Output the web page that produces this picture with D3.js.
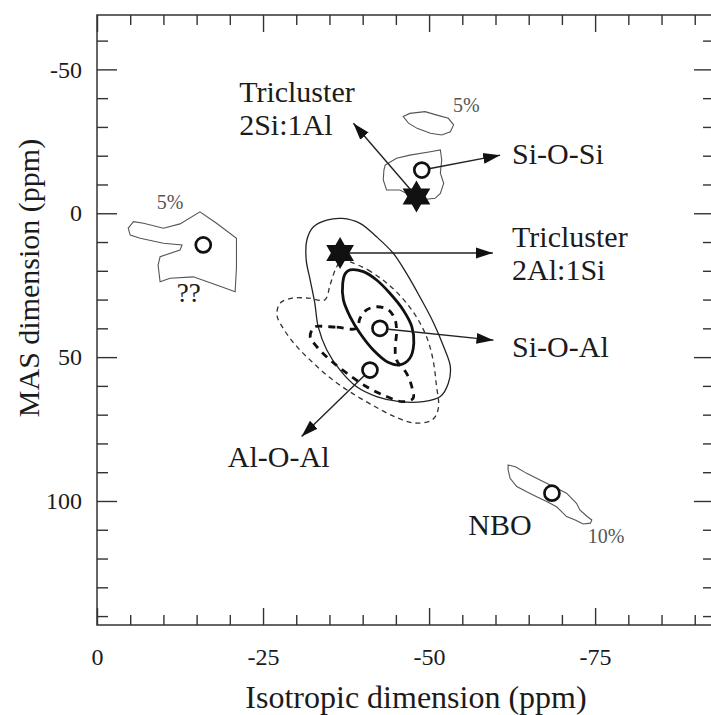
<!DOCTYPE html>
<html>
<head>
<meta charset="utf-8">
<script src="https://cdn.jsdelivr.net/npm/d3@7"></script>
<style>
  body { margin: 0; background: #fff; }
  svg { display: block; font-family: 'Liberation Serif', serif; }
</style>
</head>
<body>
<svg width="711" height="715"></svg>
<script>
// Axis ticks (ppm)
const xMajor = [0, -25, -50, -75];
const xMinor = [-5, -10, -15, -20, -30, -35, -40, -45, -55, -60, -65, -70, -80, -85, -90];
const yMajor = [-50, 0, 50, 100];
const yMinor = [-60, -40, -30, -20, -10, 10, 20, 30, 40, 60, 70, 80, 90, 110, 120, 130, 140];

// Contours, as [isotropic, MAS] pairs
const contourLeft5 = [[-4.7, 5.2], [-5.5, 2.9], [-7.0, 3.5], [-10.0, 5.2], [-12.5, 3.7], [-15.5, -0.5],
  [-18.0, 3.5], [-21.0, 8.7], [-21.0, 18.6], [-20.8, 27.3], [-18.0, 24.9], [-14.5, 22.1], [-11.0, 22.6],
  [-9.5, 23.8], [-9.2, 18.0], [-9.5, 15.1], [-12.5, 12.8], [-12.8, 11.0], [-10.0, 10.4], [-6.5, 8.7], [-5.0, 7.6]];
const contourTop5 = [[-46.1, -33.6], [-47.1, -34.7], [-49.4, -35.3], [-51.2, -34.1], [-52.9, -33.0], [-53.7, -30.7],
  [-53.2, -28.3], [-51.9, -27.2], [-50.2, -27.8], [-48.2, -29.5], [-46.9, -31.3]];
const contourSiOSi = [[-43.4, -16.8], [-45.1, -19.1], [-47.1, -20.2], [-50.2, -21.4], [-51.7, -22.0], [-51.9, -18.5],
  [-51.7, -13.9], [-52.2, -10.4], [-51.7, -6.9], [-50.9, -5.2], [-48.6, -4.6], [-45.6, -8.1], [-43.6, -8.1],
  [-43.1, -11.6], [-43.2, -15.0]];
const contourNBO = [[-61.9, 87.5], [-63.0, 88.1], [-64.7, 90.4], [-66.7, 92.7], [-68.7, 95.0], [-70.7, 97.3],
  [-72.2, 100.8], [-72.7, 103.1], [-73.8, 105.4], [-74.5, 106.6], [-74.3, 107.7], [-73.2, 108.0], [-72.0, 106.6],
  [-70.7, 105.4], [-69.2, 102.0], [-67.7, 100.2], [-66.2, 98.5], [-64.7, 96.8], [-63.2, 95.0], [-62.2, 92.1], [-61.9, 89.2]];
const contourOuter = [[-36.9, 1.8], [-39.6, 3.5], [-42.1, 8.2], [-44.6, 13.9], [-46.6, 20.9], [-48.6, 29.0],
  [-50.7, 38.2], [-52.2, 46.4], [-53.2, 53.3], [-52.9, 59.1], [-51.7, 63.7], [-49.1, 65.5], [-45.6, 65.5],
  [-42.1, 63.7], [-39.1, 60.3], [-36.6, 54.5], [-34.6, 47.5], [-33.3, 39.4], [-32.8, 31.3], [-32.1, 23.2],
  [-31.5, 16.2], [-31.6, 9.3], [-32.6, 4.7], [-34.6, 2.4]];
const contourInner = [[-38.1, 19.7], [-40.1, 20.3], [-42.1, 23.2], [-44.1, 27.8], [-46.1, 33.6], [-47.4, 39.4],
  [-47.7, 45.2], [-47.1, 50.4], [-45.6, 52.7], [-43.9, 51.9], [-41.6, 47.5], [-39.6, 41.7], [-38.1, 35.9],
  [-37.1, 30.1], [-37.0, 24.3], [-37.4, 20.9]];
const contourSimThin = [[-38.1, 16.9], [-40.8, 19.7], [-43.8, 24.6], [-46.2, 30.1], [-48.2, 36.4], [-49.7, 43.4],
  [-50.6, 51.0], [-51.1, 59.7], [-51.4, 67.7], [-50.5, 71.8], [-47.9, 72.9], [-44.9, 70.8], [-41.4, 66.6],
  [-38.1, 62.1], [-35.1, 57.2], [-32.4, 51.7], [-30.0, 46.1], [-28.2, 40.6], [-27.1, 35.4], [-27.6, 31.2],
  [-29.4, 29.5], [-31.8, 29.5], [-34.3, 30.1], [-35.1, 24.9], [-36.0, 19.0], [-36.9, 16.2]];
const contourSimThick = [[-32.8, 39.4], [-36.1, 39.6], [-39.1, 40.0], [-39.6, 36.5], [-40.6, 33.6], [-42.1, 32.5],
  [-43.9, 33.6], [-44.9, 37.1], [-45.1, 41.7], [-44.9, 46.4], [-45.1, 51.0], [-46.6, 55.6], [-47.4, 60.3],
  [-47.6, 64.3], [-46.1, 65.5], [-43.6, 63.7], [-40.6, 60.3], [-37.6, 55.6], [-35.1, 51.0], [-33.1, 46.4],
  [-32.1, 42.9], [-32.5, 40.0]];

// Peak positions
const circlePts = [[-16.0, 11.0], [-48.9, -15.0], [-42.6, 40.0], [-41.1, 54.5], [-68.5, 97.3]];
const starPts = [[-48.1, -5.8], [-36.6, 13.8]];

// Arrows: start point, tip, and whether the start sits on a circle
const arrowFrom = [[-48.1, -5.8], [-48.9, -15.0], [-36.6, 13.8], [-42.6, 40.0], [-41.1, 54.5]];
const arrowTo = [[-38.6, -31.3], [-60.7, -20.2], [-59.6, 13.8], [-59.7, 44.1], [-30.8, 77.6]];
const arrowOnCircle = [false, true, false, true, true];

// Labels: text lines and anchor (start, first baseline)
const labelText = [['Tricluster', '2Si:1Al'], ['Si-O-Si'], ['Tricluster', '2Al:1Si'], ['Si-O-Al'], ['Al-O-Al'], ['NBO']];
const labelPos = [[-21.4, -38.7], [-62.5, -17.1], [-62.5, 11.6], [-62.5, 50.0], [-19.7, 88.1], [-55.9, 111.8]];
const noteText = ['5%', '5%', '10%', '??'];
const notePos = [[-9.0, -1.5], [-53.6, -35.3], [-73.9, 114.7], [-12.0, 30.7]];

const svg = d3.select('svg');
const ink = '#1b1b1b';

const x = d3.scaleLinear().domain([0, -92.9]).range([97, 714]);
const y = d3.scaleLinear().domain([-68.9, 143.1]).range([15, 625]);

// frame
svg.append('rect')
  .attr('x', x(0)).attr('y', y(-68.9))
  .attr('width', x(-92.9) - x(0)).attr('height', y(143.1) - y(-68.9))
  .attr('fill', 'none').attr('stroke', '#333').attr('stroke-width', 1.5);

function styleAxis(g) {
  g.select('.domain').remove();
  g.selectAll('line').attr('stroke', '#333').attr('stroke-width', 1.4);
  g.selectAll('text').attr('fill', ink).attr('font-size', 24)
    .attr('font-family', "'Liberation Serif', serif");
}

const fmt = d => String(d);

svg.append('g').attr('transform', `translate(0,${y(143.1)})`)
  .call(d3.axisBottom(x).tickValues(xMajor).tickSize(-17).tickPadding(23).tickFormat(fmt)).call(styleAxis);
svg.append('g').attr('transform', `translate(0,${y(143.1)})`)
  .call(d3.axisBottom(x).tickValues(xMinor).tickSize(-10).tickFormat('')).call(styleAxis);
svg.append('g').attr('transform', `translate(0,${y(-68.9)})`)
  .call(d3.axisTop(x).tickValues(xMajor).tickSize(-17).tickFormat('')).call(styleAxis);
svg.append('g').attr('transform', `translate(0,${y(-68.9)})`)
  .call(d3.axisTop(x).tickValues(xMinor).tickSize(-10).tickFormat('')).call(styleAxis);
svg.append('g').attr('transform', `translate(${x(0)},0)`)
  .call(d3.axisLeft(y).tickValues(yMajor).tickSize(-20).tickPadding(15).tickFormat(fmt)).call(styleAxis);
svg.append('g').attr('transform', `translate(${x(0)},0)`)
  .call(d3.axisLeft(y).tickValues(yMinor).tickSize(-11).tickFormat('')).call(styleAxis);
svg.append('g').attr('transform', `translate(${x(-92.9)},0)`)
  .call(d3.axisRight(y).tickValues(yMajor).tickSize(-20).tickFormat('')).call(styleAxis);
svg.append('g').attr('transform', `translate(${x(-92.9)},0)`)
  .call(d3.axisRight(y).tickValues(yMinor).tickSize(-11).tickFormat('')).call(styleAxis);

// axis titles
svg.append('text')
  .attr('x', 416).attr('y', 708)
  .attr('text-anchor', 'middle').attr('font-size', 32).attr('fill', ink)
  .text('Isotropic dimension (ppm)');
svg.append('text')
  .attr('transform', 'translate(39,278) rotate(-90)')
  .attr('text-anchor', 'middle').attr('font-size', 30).attr('fill', ink)
  .text('MAS dimension (ppm)');

// contours
const jagged = d3.line().x(d => x(d[0])).y(d => y(d[1])).curve(d3.curveLinearClosed);
const smooth = d3.line().x(d => x(d[0])).y(d => y(d[1])).curve(d3.curveCatmullRomClosed.alpha(0.5));

const plot = svg.append('g');
[contourLeft5, contourTop5, contourSiOSi, contourNBO].forEach(c => {
  plot.append('path').attr('d', jagged(c))
    .attr('fill', 'none').attr('stroke', '#555').attr('stroke-width', 1.1);
});
plot.append('path').attr('d', smooth(contourOuter))
  .attr('fill', 'none').attr('stroke', '#222').attr('stroke-width', 1.3);
plot.append('path').attr('d', smooth(contourSimThin))
  .attr('fill', 'none').attr('stroke', '#333').attr('stroke-width', 1.3)
  .attr('stroke-dasharray', '5,4');
plot.append('path').attr('d', smooth(contourSimThick))
  .attr('fill', 'none').attr('stroke', '#111').attr('stroke-width', 2.8)
  .attr('stroke-dasharray', '7,6');
plot.append('path').attr('d', smooth(contourInner))
  .attr('fill', 'none').attr('stroke', '#111').attr('stroke-width', 2.8);

// arrow head
svg.append('defs').append('marker')
  .attr('id', 'head')
  .attr('viewBox', '0 -6 17 12')
  .attr('refX', 17).attr('refY', 0)
  .attr('markerWidth', 17).attr('markerHeight', 12)
  .attr('markerUnits', 'userSpaceOnUse')
  .attr('orient', 'auto')
  .append('path').attr('d', 'M0,-5.5L17,0L0,5.5Z').attr('fill', '#111');

const circleR = 7.5;
arrowFrom.forEach((f, i) => {
  const x0 = x(f[0]), y0 = y(f[1]);
  const x1 = x(arrowTo[i][0]), y1 = y(arrowTo[i][1]);
  const len = Math.hypot(x1 - x0, y1 - y0);
  const gap = arrowOnCircle[i] ? circleR + 1 : 0;
  plot.append('line')
    .attr('x1', x0 + (x1 - x0) * gap / len).attr('y1', y0 + (y1 - y0) * gap / len)
    .attr('x2', x1).attr('y2', y1)
    .attr('stroke', '#222').attr('stroke-width', 1.4)
    .attr('marker-end', 'url(#head)');
});

// open circles
plot.selectAll('circle.peak').data(circlePts).enter().append('circle')
  .attr('class', 'peak')
  .attr('cx', d => x(d[0])).attr('cy', d => y(d[1])).attr('r', circleR)
  .attr('fill', '#fff').attr('stroke', '#111').attr('stroke-width', 2.7);

// six-pointed stars
const star = d3.range(12).map(k => {
  const a = k * Math.PI / 6 - Math.PI / 2;
  const r = k % 2 ? 9.2 : 16;
  return [r * Math.cos(a), r * Math.sin(a)];
});
plot.selectAll('path.star').data(starPts).enter().append('path')
  .attr('class', 'star')
  .attr('transform', d => `translate(${x(d[0])},${y(d[1])})`)
  .attr('d', 'M' + star.join('L') + 'Z')
  .attr('fill', '#111');

// labels
labelText.forEach((lines, i) => {
  const t = svg.append('text')
    .attr('x', x(labelPos[i][0])).attr('y', y(labelPos[i][1]))
    .attr('font-size', 30).attr('fill', ink);
  lines.forEach((s, j) => {
    t.append('tspan').attr('x', x(labelPos[i][0])).attr('dy', j ? 33 : 0).text(s);
  });
});
noteText.forEach((s, i) => {
  svg.append('text')
    .attr('x', x(notePos[i][0])).attr('y', y(notePos[i][1]))
    .attr('font-size', s === '??' ? 27 : 20)
    .attr('fill', s === '??' ? ink : '#555')
    .text(s);
});
</script>
</body>
</html>
